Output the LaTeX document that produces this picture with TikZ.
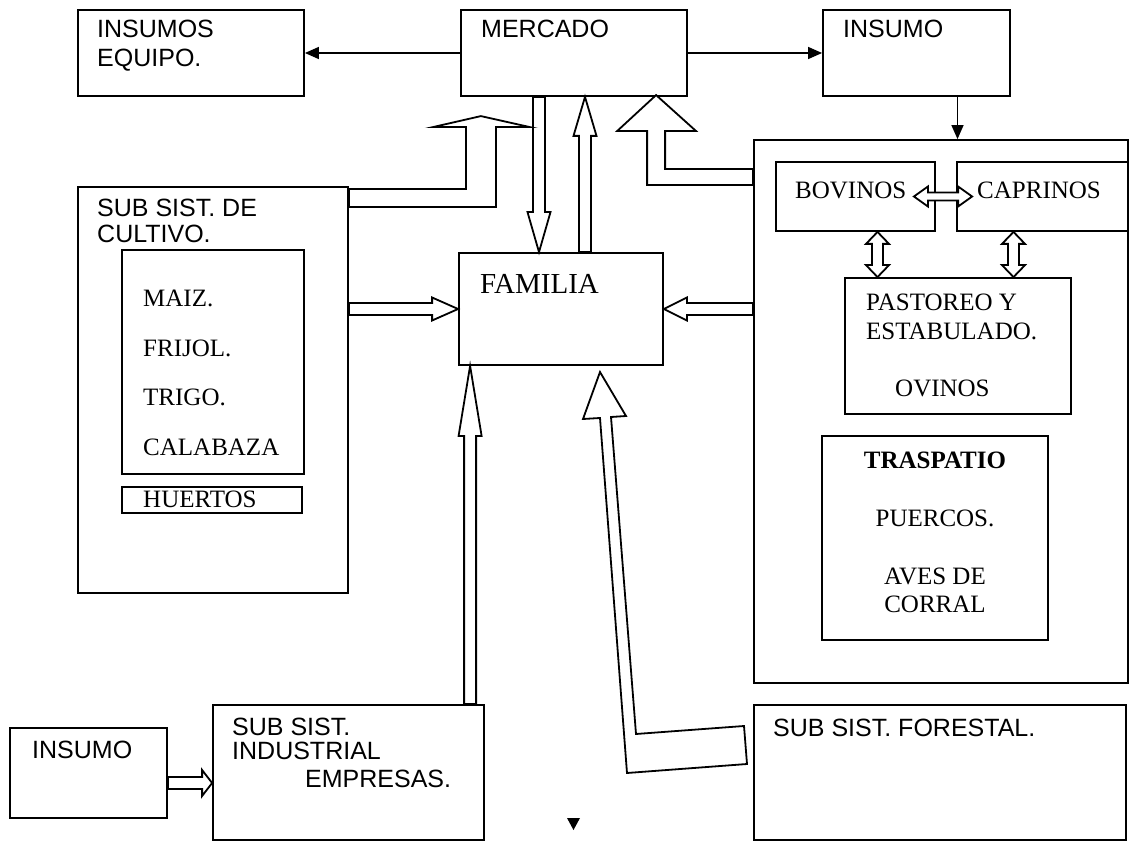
\documentclass[tikz,border=0pt]{standalone}
\usepackage{fontspec}
\setmainfont{Liberation Serif}
\setsansfont{Liberation Sans}
\usetikzlibrary{arrows.meta,calc,fit,positioning}

\tikzset{
  box/.style={draw, line width=1.8pt, inner sep=0pt},
  sans/.style={font=\sffamily\fontsize{25}{29}\selectfont, inner sep=0pt, align=left, anchor=north west},
  roman/.style={font=\fontsize{25}{29}\selectfont, inner sep=0pt, align=left, anchor=north west},
  arr/.style={line width=1.4pt, -{Triangle[length=14pt,width=12pt]}},
  hollow/.style={draw, line width=1.8pt, fill=white, line join=miter},
}

% hollow arrow: from, to, half shaft, half head, head length
\newcommand{\hollow}[5]{%
  \coordinate (ha) at ($(#2)!#5!(#1)$);
  \draw[hollow] ($(#1)!#3!90:(#2)$) -- ($(ha)!#3!90:(#2)$) -- ($(ha)!#4!90:(#2)$) -- (#2)
    -- ($(ha)!#4!-90:(#2)$) -- ($(ha)!#3!-90:(#2)$) -- ($(#1)!#3!-90:(#2)$) -- cycle;}
% hollow arrow with two heads
\newcommand{\hollowboth}[5]{%
  \coordinate (ha) at ($(#2)!#5!(#1)$);
  \coordinate (hb) at ($(#1)!#5!(#2)$);
  \draw[hollow] (#1) -- ($(hb)!#4!90:(#2)$) -- ($(hb)!#3!90:(#2)$) -- ($(ha)!#3!90:(#2)$)
    -- ($(ha)!#4!90:(#2)$) -- (#2) -- ($(ha)!#4!-90:(#2)$) -- ($(ha)!#3!-90:(#2)$)
    -- ($(hb)!#3!-90:(#2)$) -- ($(hb)!#4!-90:(#2)$) -- cycle;}

\begin{document}
\begin{tikzpicture}[x=1pt, y=-1pt]
  \useasboundingbox (0,0) rectangle (1130,842);
  %
  \node[box, fit={(78,10) (304,96)}] (equipo) {};          % top row
  \node[box, fit={(461,10) (687,96)}] (mercado) {};
  \node[box, fit={(823,10) (1010,96)}] (insumo) {};
  %
  \node[box, fit={(78,187) (348,593)}] (cultivo) {};       % left
  \node[box, fit={(122,250) (304,474)}] (granos) {};
  \node[box, fit={(122,487) (302,513)}] (huertos) {};
  %
  \node[box, fit={(459,253) (663,365)}] (familia) {};      % centre
  %
  \node[box, fit={(754,140) (1128,683)}] (pecuario) {};    % right
  \node[box, fit={(776,162) (935,231)}] (bovinos) {};
  \node[box, fit={(957,162) (1128,231)}] (caprinos) {};
  \node[box, fit={(845,278) (1071,414)}] (pastoreo) {};
  \node[box, fit={(822,436) (1048,640)}] (traspatio) {};
  %
  \node[box, fit={(10,728) (167,818)}] (insumob) {};       % bottom row
  \node[box, fit={(213,705) (484,840)}] (industrial) {};
  \node[box, fit={(754,705) (1126,840)}] (forestal) {};
  %
  \node[sans] (equipo-t) at (97,20) {INSUMOS\\EQUIPO.};
  \node[sans] (mercado-t) at (481,20) {MERCADO};
  \node[sans] (insumo-t) at (843,20) {INSUMO};
  \node[sans, font=\sffamily\fontsize{25}{26}\selectfont] (cultivo-t) at (97,199) {SUB SIST. DE\\CULTIVO.};
  \node[roman, font=\fontsize{25}{49.5}\selectfont] (granos-t) at (143,290) {MAIZ.\\FRIJOL.\\TRIGO.\\CALABAZA};
  \node[roman] (huertos-t) at (143,491) {HUERTOS};
  \node[roman, font=\fontsize{29}{32}\selectfont] (familia-t) at (480,274) {FAMILIA};
  \node[roman] (bovinos-t) at (795,182) {BOVINOS};
  \node[roman] (caprinos-t) at (977,182) {CAPRINOS};
  \node[roman] (pastoreo-t) at (866,294) {PASTOREO Y\\ESTABULADO.};
  \node[roman] (ovinos-t) at (895,380) {OVINOS};
  \node[roman, align=center, anchor=north, font=\fontsize{25}{28}\selectfont] (traspatio-t) at (935,452)
    {\bfseries TRASPATIO\\[30pt]PUERCOS.\\[30pt]AVES DE\\CORRAL};
  \node[sans] (insumob-t) at (32,741) {INSUMO};
  \node[sans, font=\sffamily\fontsize{25}{24}\selectfont] (industrial-t) at (232,718)
    {SUB SIST.\\INDUSTRIAL\\[4pt]\hspace*{73pt}EMPRESAS.};
  \node[sans] (forestal-t) at (773,719) {SUB SIST. FORESTAL.};
  %
  \draw[arr] (mercado.west) -- (equipo.east);              % thin arrows
  \draw[arr] (mercado.east) -- (insumo.west);
  \draw[arr] ([xshift=41pt]insumo.south) -- ([xshift=41pt]insumo.south |- pecuario.north);
  %
  \coordinate (cf) at (cultivo.east |- familia.west);       % hollow arrows
  \coordinate (pf) at (pecuario.west |- familia.east);
  \coordinate (md) at ([xshift=-35pt]mercado.south);
  \coordinate (fd) at (md |- familia.north);
  \coordinate (fu) at ([xshift=24pt]familia.north);
  \coordinate (mu) at (fu |- mercado.south);
  \coordinate (fi) at ([xshift=12pt]familia.south west);
  \coordinate (ii) at (fi |- industrial.north);
  \coordinate (ib) at ([yshift=-10pt]insumob.east);
  \coordinate (ie) at (ib -| industrial.west);
  \hollow{cf}{familia.west}{6pt}{11.5pt}{26pt}
  \hollow{pf}{familia.east}{6pt}{11.5pt}{23pt}
  \hollow{md}{fd}{6pt}{11.5pt}{40pt}
  \hollow{fu}{mu}{6pt}{11.5pt}{39pt}
  \hollow{ii}{fi}{6pt}{11.5pt}{70pt}
  \hollow{ib}{ie}{6pt}{13pt}{10pt}
  %
  \coordinate (b1) at ([xshift=22pt]bovinos.south);         % double arrows
  \coordinate (p1) at (b1 |- pastoreo.north);
  \coordinate (b2) at ([xshift=-29pt]caprinos.south);
  \coordinate (p2) at (b2 |- pastoreo.north);
  \coordinate (bc1) at ([xshift=-22pt]bovinos.east);
  \coordinate (bc2) at ([xshift=16pt]caprinos.west);
  \hollowboth{b1}{p1}{5.5pt}{11.5pt}{12pt}
  \hollowboth{b2}{p2}{5.5pt}{11.5pt}{12pt}
  \hollowboth{bc1}{bc2}{4pt}{10pt}{14pt}
  %
  \draw[hollow] ([yshift=-3pt]cultivo.north east) -- ++(117,0) -- ++(0,-62) -- ++(-33,0)
    -- ++(48,-11) -- ++(49,11) -- ++(-34,0) -- ++(0,80) -- ++(-147,0) -- cycle;   % to mercado
  \draw[hollow] ([yshift=-30pt]pecuario.north west) -- ++(-88,0) -- ++(0,-38) -- ++(31,0)
    -- ++(-40,-36) -- ++(-39,36) -- ++(30,0) -- ++(0,54) -- ++(106,0) -- cycle;    % to mercado
  \draw[hollow] (600,372) -- (626,416) -- (611,417) -- (636,734) -- (744,726)
    -- (747,764) -- (627,773) -- (600,418) -- (583,419) -- cycle;                   % forestal
  %
  \fill (567,818) -- (580,818) -- (573.5,830) -- cycle;
\end{tikzpicture}
\end{document}
